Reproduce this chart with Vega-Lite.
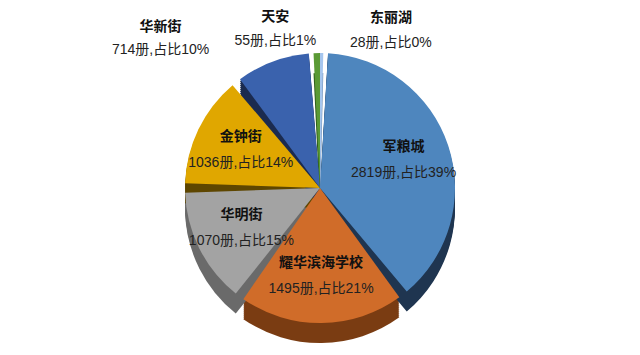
{
  "$schema": "https://vega.github.io/schema/vega-lite/v6.json",
  "width": 640,
  "height": 355,
  "padding": 0,
  "autosize": {"type": "fit", "contains": "padding"},
  "background": "white",
  "config": {"view": {"stroke": null}, "font": "Liberation Sans, Noto Sans CJK SC"},
  "data": {
    "values": [
      {"idx": 1, "name": "东丽湖", "value": 28, "label": "28册,占比0%"},
      {"idx": 2, "name": "军粮城", "value": 2819, "label": "2819册,占比39%"},
      {"idx": 3, "name": "耀华滨海学校", "value": 1495, "label": "1495册,占比21%"},
      {"idx": 4, "name": "华明街", "value": 1070, "label": "1070册,占比15%"},
      {"idx": 5, "name": "金钟街", "value": 1036, "label": "1036册,占比14%"},
      {"idx": 6, "name": "华新街", "value": 714, "label": "714册,占比10%"},
      {"idx": 7, "name": "天安", "value": 55, "label": "55册,占比1%"}
    ]
  },
  "encoding": {
    "theta": {"field": "value", "type": "quantitative", "stack": true},
    "order": {"field": "idx", "type": "quantitative"}
  },
  "layer": [
    {
      "encoding": {
        "color": {"field": "name", "type": "nominal", "legend": null,
          "scale": {"domain": ["东丽湖", "军粮城", "耀华滨海学校", "华明街", "金钟街", "华新街", "天安"],
                    "range": ["#6F8FB5", "#1F3550", "#7A3C12", "#6A6A6A", "#5E4600", "#1B2B4F", "#2E5E1A"]}},
        "opacity": {"condition": {"test": "datum.value < 100", "value": 0}, "value": 1}
      },
      "layer": [
        {"mark": {"type": "arc", "radius": 135, "padAngle": 0.07, "yOffset": 17.5}},
        {"mark": {"type": "arc", "radius": 135, "padAngle": 0.07, "yOffset": 19.5}},
        {"mark": {"type": "arc", "radius": 135, "padAngle": 0.07, "yOffset": 21.5}},
        {"mark": {"type": "arc", "radius": 135, "padAngle": 0.07, "yOffset": 23.5}},
        {"mark": {"type": "arc", "radius": 135, "padAngle": 0.07, "yOffset": 25.5}},
        {"mark": {"type": "arc", "radius": 135, "padAngle": 0.07, "yOffset": 27.5}},
        {"mark": {"type": "arc", "radius": 135, "padAngle": 0.07, "yOffset": 29.5}},
        {"mark": {"type": "arc", "radius": 135, "padAngle": 0.07, "yOffset": 31.5}},
        {"mark": {"type": "arc", "radius": 135, "padAngle": 0.07, "yOffset": 33.5}},
        {"mark": {"type": "arc", "radius": 135, "padAngle": 0.07, "yOffset": 35.5}}
      ]
    },
    {
      "mark": {"type": "arc", "radius": 135, "padAngle": 0, "yOffset": 35.5},
      "encoding": {
        "color": {"field": "name", "type": "nominal", "legend": null,
          "scale": {"domain": ["东丽湖", "军粮城", "耀华滨海学校", "华明街", "金钟街", "华新街", "天安"],
                    "range": ["#6F8FB5", "#1F3550", "#7A3C12", "#6A6A6A", "#5E4600", "#1B2B4F", "#2E5E1A"]}},
        "opacity": {"condition": {"test": "datum.value < 100", "value": 1}, "value": 0}
      }
    },
    {
      "mark": {"type": "arc", "radius": 135, "padAngle": 0.07, "yOffset": 15.5},
      "encoding": {
        "color": {"field": "name", "type": "nominal", "legend": null,
          "scale": {"domain": ["东丽湖", "军粮城", "耀华滨海学校", "华明街", "金钟街", "华新街", "天安"],
                    "range": ["#A6C6EE", "#4E86BE", "#D06C29", "#A3A3A3", "#E0A700", "#3A62AD", "#5A9A35"]}},
        "opacity": {"condition": {"test": "datum.value < 100", "value": 0}, "value": 1}
      }
    },
    {
      "mark": {"type": "arc", "radius": 135, "padAngle": 0, "yOffset": 15.5},
      "encoding": {
        "color": {"field": "name", "type": "nominal", "legend": null,
          "scale": {"domain": ["东丽湖", "军粮城", "耀华滨海学校", "华明街", "金钟街", "华新街", "天安"],
                    "range": ["#A6C6EE", "#4E86BE", "#D06C29", "#A3A3A3", "#E0A700", "#3A62AD", "#5A9A35"]}},
        "opacity": {"condition": {"test": "datum.value < 100", "value": 1}, "value": 0}
      }
    },
    {
      "mark": {"type": "text", "radius": 88, "yOffset": 15.5, "dy": -13, "fontWeight": "bold", "fontSize": 14, "color": "#111"},
      "encoding": {"text": {"condition": {"test": "datum.value > 900", "field": "name"}, "value": ""}}
    },
    {
      "mark": {"type": "text", "radius": 88, "yOffset": 15.5, "dy": 13, "fontSize": 14, "color": "#222"},
      "encoding": {"text": {"condition": {"test": "datum.value > 900", "field": "label"}, "value": ""}}
    },
    {
      "mark": {"type": "text", "radius": 155, "yOffset": 15.5, "dx": -105, "dy": -16, "fontWeight": "bold", "fontSize": 14, "color": "#111"},
      "encoding": {"text": {"condition": {"test": "datum.name == '华新街'", "field": "name"}, "value": ""}}
    },
    {
      "mark": {"type": "text", "radius": 155, "yOffset": 15.5, "dx": -105, "dy": 7, "fontSize": 14, "color": "#222"},
      "encoding": {"text": {"condition": {"test": "datum.name == '华新街'", "field": "label"}, "value": ""}}
    },
    {
      "mark": {"type": "text", "radius": 155, "yOffset": 15.5, "dx": -41, "dy": -16, "fontWeight": "bold", "fontSize": 14, "color": "#111"},
      "encoding": {"text": {"condition": {"test": "datum.name == '天安'", "field": "name"}, "value": ""}}
    },
    {
      "mark": {"type": "text", "radius": 155, "yOffset": 15.5, "dx": -41, "dy": 8, "fontSize": 14, "color": "#222"},
      "encoding": {"text": {"condition": {"test": "datum.name == '天安'", "field": "label"}, "value": ""}}
    },
    {
      "mark": {"type": "text", "radius": 155, "yOffset": 15.5, "dx": 69, "dy": -15, "fontWeight": "bold", "fontSize": 14, "color": "#111"},
      "encoding": {"text": {"condition": {"test": "datum.name == '东丽湖'", "field": "name"}, "value": ""}}
    },
    {
      "mark": {"type": "text", "radius": 155, "yOffset": 15.5, "dx": 69, "dy": 10, "fontSize": 14, "color": "#222"},
      "encoding": {"text": {"condition": {"test": "datum.name == '东丽湖'", "field": "label"}, "value": ""}}
    }
  ],
  "resolve": {"scale": {"color": "independent", "opacity": "independent"}}
}
